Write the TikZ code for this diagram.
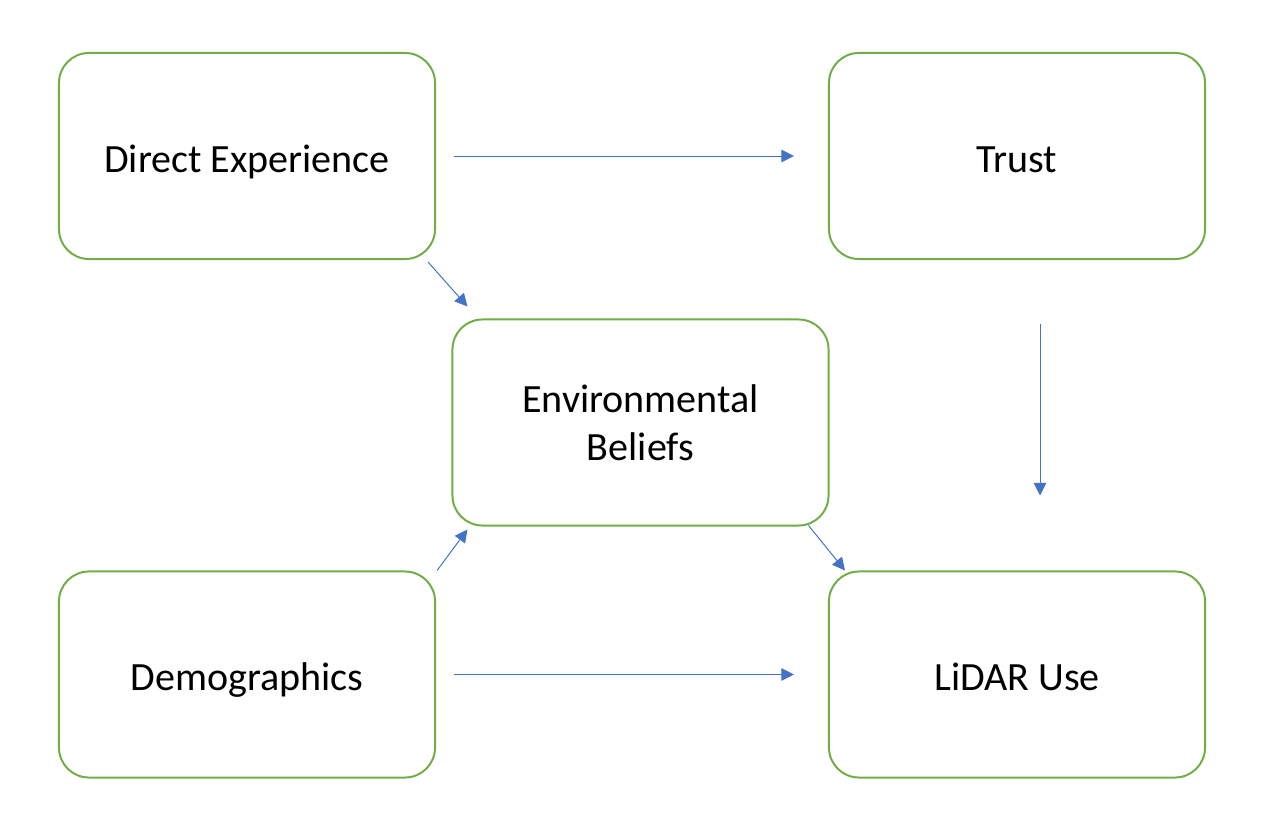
\documentclass[tikz,border=0pt]{standalone}
\usepackage{fontspec}
\setmainfont{Carlito}
\usetikzlibrary{arrows.meta}
\definecolor{boxgreen}{HTML}{70AD47}
\definecolor{arrowblue}{HTML}{4472C4}

\begin{document}
\begin{tikzpicture}[x=0.025cm,y=-0.025cm,
  factor/.style={draw=boxgreen,line width=1.4pt,rounded corners=0.75cm,
    minimum width=9.4cm,minimum height=5.15cm,align=center,
    font=\fontsize{28.5}{34}\selectfont},
  oneline/.style={factor,text height=22.8pt,text depth=0pt},
  link/.style={-{Triangle[length=9pt,width=9pt]},arrowblue,line width=0.7pt}]
  \useasboundingbox (0,0) rectangle (1268,832);
  \node[oneline] (de) at (247,156) {Direct Experience};
  \node[oneline] (trust) at (1017,156) {Trust};
  \node[factor] (eb) at (640.5,422.5) {Environmental\\Beliefs};
  \node[oneline] (demo) at (247,674.5) {Demographics};
  \node[oneline] (lidar) at (1017,674.5) {LiDAR Use};
  \draw[link,shorten <=0.45cm,shorten >=0.85cm] (de) -- (trust);
  \draw[link,shorten <=0.45cm,shorten >=0.85cm] (demo) -- (lidar);
  \draw[link,shorten <=1.6cm,shorten >=1.875cm] ([xshift=0.575cm]trust.south) -- ([xshift=0.575cm]lidar.north);
  \draw[link] ([shift={(-8,2)}]de.south east) -- ([shift={(16,-12)}]eb.north west);
  \draw[link] ([shift={(1,0)}]demo.north east) -- ([shift={(16,3)}]eb.south west);
  \draw[link] ([shift={(-21,-1)}]eb.south east) -- ([shift={(17,0)}]lidar.north west);
\end{tikzpicture}
\end{document}
